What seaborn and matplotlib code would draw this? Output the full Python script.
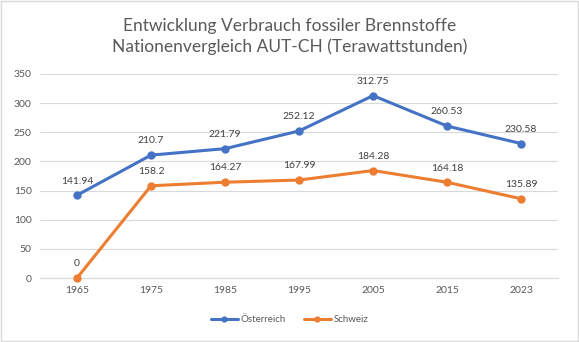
import matplotlib
matplotlib.use("Agg")
import matplotlib.pyplot as plt
import seaborn as sns
import pandas as pd

years = ["1965", "1975", "1985", "1995", "2005", "2015", "2023"]
austria = [141.94, 210.7, 221.79, 252.12, 312.75, 260.53, 230.58]
swiss = [0, 158.2, 164.27, 167.99, 184.28, 164.18, 135.89]
series_names = ["Österreich", "Schweiz"]
title_lines = ["Entwicklung Verbrauch fossiler Brennstoffe", "Nationenvergleich AUT-CH (Terawattstunden)"]

df = pd.DataFrame({
    "Jahr": years * 2,
    "Wert": austria + swiss,
    "Land": [series_names[0]] * len(years) + [series_names[1]] * len(years),
})

sns.set_style("white")
plt.rcParams["font.family"] = ["Lato", "DejaVu Sans"]

fig = plt.figure(figsize=(5.79, 3.42), dpi=100)
fig.patch.set_facecolor("white")
ax = fig.add_axes([0.069, 0.187, 0.895, 0.597])

colors = {"Österreich": "#4472C4", "Schweiz": "#ED7D31"}
sns.lineplot(data=df, x="Jahr", y="Wert", hue="Land", palette=colors, marker="o",
             markersize=6, markeredgewidth=0, linewidth=2.2, ax=ax, sort=False)
for ln in ax.lines:
    ln.set_clip_on(False)

ax.set_xlim(-0.5, len(years) - 0.5)
ax.set_ylim(0, 350)
ax.set_yticks(range(0, 351, 50))
ax.grid(axis="y", color="#D9D9D9", linewidth=0.8)
ax.set_axisbelow(True)
for s in ["top", "right", "left"]:
    ax.spines[s].set_visible(False)
ax.spines["bottom"].set_color("#D9D9D9")
ax.spines["bottom"].set_zorder(0.5)
ax.tick_params(axis="both", length=0, labelsize=7.5, colors="#595959", pad=6)
ax.set_xlabel("")
ax.set_ylabel("")

for i, v in enumerate(austria):
    ax.annotate(f"{v:g}", (i, v), xytext=(0, 7), textcoords="offset points",
                ha="center", va="bottom", fontsize=7.5, color="#404040")
for i, v in enumerate(swiss):
    ax.annotate(f"{v:g}", (i, v), xytext=(0, 7), textcoords="offset points",
                ha="center", va="bottom", fontsize=7.5, color="#404040")

fig.text(0.5, 0.925, title_lines[0], ha="center", va="center", fontsize=12.5, color="#595959")
fig.text(0.5, 0.862, title_lines[1], ha="center", va="center", fontsize=12.5, color="#595959")

ax.legend_.remove()
handles, labels = ax.get_legend_handles_labels()
fig.legend(handles, labels, loc="center", bbox_to_anchor=(0.5, 0.065), ncol=2, frameon=False,
           fontsize=7, labelcolor="#595959", handlelength=2.8, handletextpad=0.3,
           columnspacing=1.8, markerscale=0.75)

border = plt.Rectangle((0.002, 0.003), 0.996, 0.994, transform=fig.transFigure,
                       fill=False, edgecolor="#D9D9D9", linewidth=1)
fig.add_artist(border)

fig.savefig("out.png", dpi=100)
